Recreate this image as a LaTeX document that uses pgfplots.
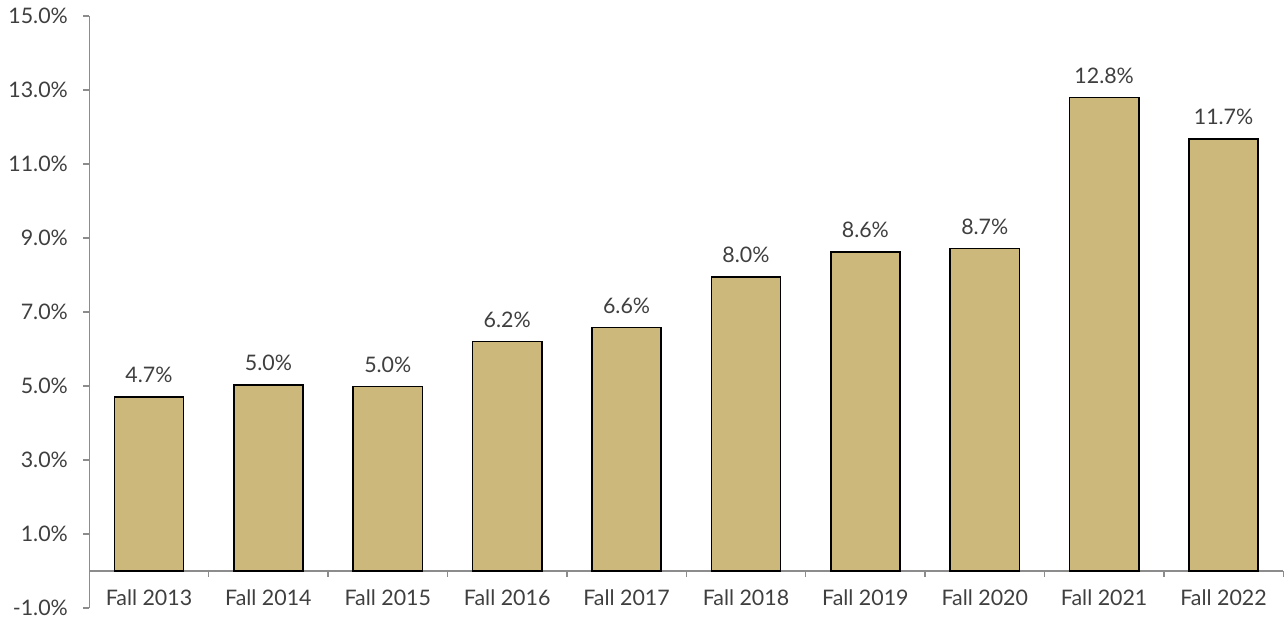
\documentclass[border=0pt]{standalone}
\usepackage{fontspec}
\setmainfont{Lato}
\usepackage{pgfplots}
\pgfplotsset{compat=1.18}
\definecolor{barfill}{HTML}{CDB87C}
\definecolor{txt}{HTML}{3F3F3F}
\definecolor{axgray}{HTML}{8C8C8C}

\begin{document}
\begin{tikzpicture}
\begin{axis}[
  scale only axis, width=16.67cm, height=8.26cm,
  xmin=-0.5, xmax=9.5, ymin=-1, ymax=15,
  axis y line=left, axis x line=middle,
  axis line style={-, draw=axgray, line width=0.6pt},
  ytick={-1,1,...,15},
  yticklabel={\pgfmathprintnumber[fixed,fixed zerofill,precision=1]{\tick}\%},
  xtick={0,...,9},
  xticklabels={Fall 2013,Fall 2014,Fall 2015,Fall 2016,Fall 2017,Fall 2018,Fall 2019,Fall 2020,Fall 2021,Fall 2022},
  major x tick style={draw=none},
  minor xtick={-0.5,0.5,...,9.5},
  minor x tick style={draw=axgray, line width=0.6pt},
  y tick style={draw=axgray, line width=0.6pt},
  tick align=outside, major tick length=2.5pt, minor tick length=2.5pt,
  tick label style={font=\fontsize{8.5}{10}\selectfont, text=txt},
  x tick label style={yshift=-1.5pt},
  y tick label style={xshift=-2.5pt},
  /pgf/number format/assume math mode=true,
  ybar, bar width=0.58,
  nodes near coords={\pgfmathprintnumber[fixed,fixed zerofill,precision=1]{\pgfplotspointmeta}\%},
  every node near coord/.append style={font=\fontsize{8.5}{10}\selectfont, text=txt, yshift=2pt},
  clip=false,
]
\addplot[fill=barfill, draw=black, line width=0.6pt] coordinates {
  (0,4.70) (1,5.02) (2,4.98) (3,6.20) (4,6.58)
  (5,7.95) (6,8.62) (7,8.72) (8,12.80) (9,11.68)
};
\end{axis}
\end{tikzpicture}
\end{document}
